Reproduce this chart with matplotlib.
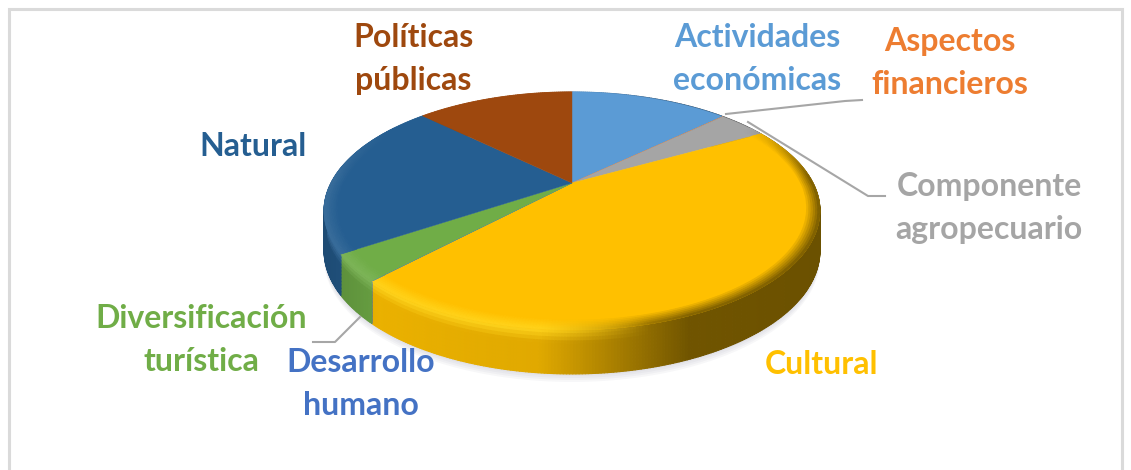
import numpy as np
import matplotlib
matplotlib.use("Agg")
import matplotlib.pyplot as plt
from matplotlib.collections import PolyCollection
from matplotlib.colors import to_rgb

categories = ["Actividades\neconómicas", "Aspectos\nfinancieros", "Componente\nagropecuario",
              "Cultural", "Desarrollo\nhumano", "Diversificación\nturística", "Natural",
              "Políticas\npúblicas"]
values = [12.95, 0.02, 3.93, 45.2, 0.02, 3.6, 21.48, 12.8]
colors = ["#5B9BD5", "#ED7D31", "#A5A5A5", "#FFC000", "#4472C4", "#70AD47", "#255E91", "#9E480E"]
label_xy = [(757, 59), (950, 63), (989, 208), (821, 364), (361, 384), (201, 340), (253, 147), (413, 59)]

CX, CY, A, H, K = 572, 183, 241, 112.4, 0.235

def project(theta, r=1.0):
    u, v = r * np.sin(theta), r * np.cos(theta)
    d = 1 + K * v
    return CX + A * u / d, CY - H * v / d

def depth(theta):
    return 38 + 6 * (-np.cos(theta))

def side_shade(x):
    return np.interp(x, [324, 380, 540, 610, 690, 820], [.80, .92, .88, .68, .44, .42])

def right_weight(x):
    return np.clip((x - 540) / 110, 0, 1)

def highlight(base, rgb):
    if base == "#FFC000":
        return rgb + (np.array([1, 0.93, 0.25]) - rgb) * 0.45
    return rgb + (1 - rgb) * 0.10

fig = plt.figure(figsize=(11.31, 4.70), dpi=100, facecolor="white")
ax = fig.add_axes([0, 0, 1, 1])
ax.set_xlim(0, 1131)
ax.set_ylim(470, 0)
ax.axis("off")

# chart frame
ax.plot([9, 9, 1122, 1122], [470, 9, 9, 470], color="#DADADA", lw=2.2, solid_joinstyle="miter")

edges = np.deg2rad(np.concatenate([[0], np.cumsum(values)]) * 3.6)

# soft shadow below the body
circle = np.linspace(0, 2 * np.pi, 300)
cx_, cy_ = project(circle)
for off in [8, 6, 4, 2]:
    ax.fill(cx_, cy_ + depth(circle) + off, color="#8E8EA8", alpha=0.07, lw=0)

# side wall
quads, qcols = [], []
layers = np.linspace(0, 1, 13)
for i, base in enumerate(colors):
    rgb = np.array(to_rgb(base))
    n = max(int((edges[i + 1] - edges[i]) / 0.01), 1)
    th = np.linspace(edges[i], edges[i + 1], n + 1)
    xs, ys = project(th)
    dp = depth(th)
    bright = highlight(base, rgb)
    for j in range(n):
        s = side_shade(xs[j])
        w = right_weight(xs[j])
        for t0, t1 in zip(layers[:-1], layers[1:]):
            quads.append([(xs[j], ys[j] + t0 * dp[j]), (xs[j + 1], ys[j + 1] + t0 * dp[j + 1]),
                          (xs[j + 1], ys[j + 1] + t1 * dp[j + 1]), (xs[j], ys[j] + t1 * dp[j])])
            mix = min((t0 + t1) / 2 / 0.3, 1)
            left = rgb * s * mix + bright * (1 - mix)
            right = rgb * s
            qcols.append(np.clip(left * (1 - w) + right * w, 0, 1))
ax.add_collection(PolyCollection(quads, facecolors=qcols, edgecolors=qcols, linewidths=0.8))

# top surface
for i, base in enumerate(colors):
    th = np.linspace(edges[i], edges[i + 1], max(int((edges[i + 1] - edges[i]) / 0.01), 2))
    xs, ys = project(th)
    ax.fill(np.r_[CX, xs], np.r_[CY, ys], color=base, lw=0.3)

# bevel at the rim of the top surface
quads, qcols = [], []
radii = np.linspace(0.94, 1.0, 8)
for i, base in enumerate(colors):
    rgb = np.array(to_rgb(base))
    n = max(int((edges[i + 1] - edges[i]) / 0.01), 1)
    th = np.linspace(edges[i], edges[i + 1], n + 1)
    bright = highlight(base, rgb)
    for j in range(n):
        m = (th[j] + th[j + 1]) / 2
        fade = np.clip((0.55 - np.cos(m)) / 0.5, 0, 1)
        if fade == 0:
            continue
        x = project(m)[0]
        s, rw = side_shade(x), right_weight(x)
        for r0, r1 in zip(radii[:-1], radii[1:]):
            p = [project(th[j], r0), project(th[j + 1], r0), project(th[j + 1], r1), project(th[j], r1)]
            q = (r0 - radii[0]) / (radii[-1] - radii[0])
            col = (rgb + (bright - rgb) * q) * (1 - rw) + (rgb + (rgb * s - rgb) * q) * rw
            quads.append(p)
            qcols.append(np.clip(rgb + (col - rgb) * fade, 0, 1))
ax.add_collection(PolyCollection(quads, facecolors=qcols, edgecolors=qcols, linewidths=0.5))

# leader lines
leader_x = [[862, 845, 726], [885, 868, 748], [313, 335, 360]]
leader_y = [[100, 101, 114], [196, 196, 122], [342, 342, 317]]
for lx, ly in zip(leader_x, leader_y):
    ax.plot(lx, ly, color="#A6A6A6", lw=1.5)

# labels
for name, (x, y), c in zip(categories, label_xy, colors):
    ax.text(x, y, name, color=c, ha="center", va="center", family="Lato", weight="bold",
            fontsize=23, linespacing=1.55)

fig.savefig("out.png", dpi=100, facecolor="white")
